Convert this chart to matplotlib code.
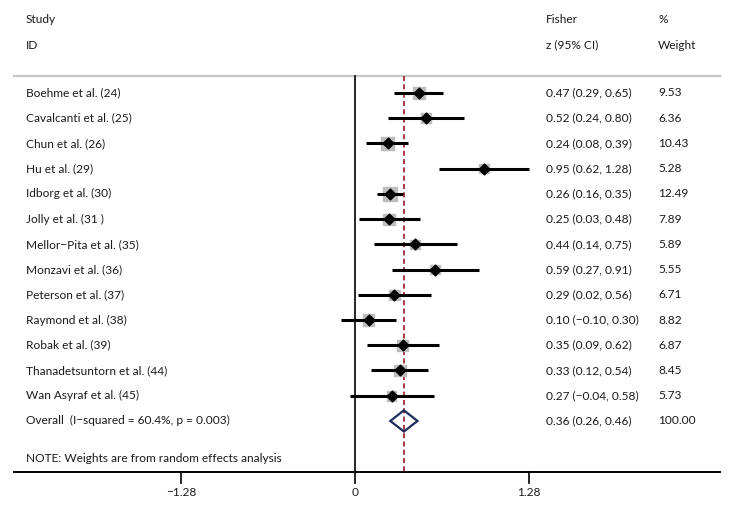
import numpy as np
import matplotlib.pyplot as plt
from matplotlib.transforms import blended_transform_factory
from matplotlib.patches import Polygon

plt.rcParams['font.family'] = ['Lato', 'DejaVu Sans']
plt.rcParams['text.color'] = '#1a1a1a'

# Study data
studies = ["Boehme et al. (24)", "Cavalcanti et al. (25)", "Chun et al. (26)",
           "Hu et al. (29)", "Idborg et al. (30)", "Jolly et al. (31 )",
           "Mellor\u2212Pita et al. (35)", "Monzavi et al. (36)", "Peterson et al. (37)",
           "Raymond et al. (38)", "Robak et al. (39)", "Thanadetsuntorn et al. (44)",
           "Wan Asyraf et al. (45)"]
est = [0.47, 0.52, 0.24, 0.95, 0.26, 0.25, 0.44, 0.59, 0.29, 0.10, 0.35, 0.33, 0.27]
lo = [0.29, 0.24, 0.08, 0.62, 0.16, 0.03, 0.14, 0.27, 0.02, -0.10, 0.09, 0.12, -0.04]
hi = [0.65, 0.80, 0.39, 1.28, 0.35, 0.48, 0.75, 0.91, 0.56, 0.30, 0.62, 0.54, 0.58]
weights = [9.53, 6.36, 10.43, 5.28, 12.49, 7.89, 5.89, 5.55, 6.71, 8.82, 6.87, 8.45, 5.73]

overall_label = "Overall  (I\u2212squared = 60.4%, p = 0.003)"
overall_est, overall_lo, overall_hi = 0.36, 0.26, 0.46
overall_weight = 100.00
note = "NOTE: Weights are from random effects analysis"
xticks = [-1.28, 0, 1.28]

def fmt(v):
    return ("%.2f" % v).replace("-", "\u2212")

fig = plt.figure(figsize=(7.42, 5.09), dpi=100)
ax = fig.add_axes([0, 0, 1, 1])
ax.set_xlim(-2.612, 2.848)
ax.set_ylim(16.49, -3.686)
ax.axis('off')

tx = blended_transform_factory(ax.transAxes, ax.transData)
fs = 8.6
x_id, x_est, x_w = 0.035, 0.736, 0.887
y_top, y_axis = -0.68, 15.02

# header
ax.text(x_id, -2.93, "Study", transform=tx, fontsize=fs, va='center')
ax.text(x_id, -1.9, "ID", transform=tx, fontsize=fs, va='center')
ax.text(x_est, -2.93, "Fisher", transform=tx, fontsize=fs, va='center')
ax.text(x_est, -1.9, "z (95% CI)", transform=tx, fontsize=fs, va='center')
ax.text(x_w, -2.93, "%", transform=tx, fontsize=fs, va='center')
ax.text(x_w, -1.9, "Weight", transform=tx, fontsize=fs, va='center')

# separator and axis lines
ax.plot([0.019, 0.97], [y_top, y_top], transform=tx, color='#c8c8c8', lw=1.6, clip_on=False)
ax.plot([0.019, 0.97], [y_axis, y_axis], transform=tx, color='black', lw=1.4, clip_on=False)
ax.plot([0, 0], [y_top, y_axis], color='black', lw=1.2)
ax.plot([overall_est, overall_est], [y_top, y_axis], color='#9e2a3a', lw=1.3, ls=(0, (2.8, 1.8)))
for t in xticks:
    ax.plot([t, t], [y_axis, y_axis + 0.45], color='black', lw=1.2)
    lab = "0" if t == 0 else fmt(t)
    ax.text(t, 15.85, lab, ha='center', va='center', fontsize=fs)

y = np.arange(len(studies))
# weight boxes
ax.scatter(est, y, s=[8.3 * w for w in weights], marker='s', color='#bdbdbd', zorder=2)
ax.hlines(y, lo, hi, color='black', lw=2.2, zorder=3)
ax.scatter(est, y, s=30, marker='D', color='black', zorder=4)

for i, name in enumerate(studies):
    ax.text(x_id, y[i], name, transform=tx, fontsize=fs, va='center')
    ax.text(x_est, y[i], "%s (%s, %s)" % (fmt(est[i]), fmt(lo[i]), fmt(hi[i])),
            transform=tx, fontsize=fs, va='center')
    ax.text(x_w, y[i], "%.2f" % weights[i], transform=tx, fontsize=fs, va='center')

# overall diamond
yo = len(studies)
dia = Polygon([[overall_lo, yo], [overall_est, yo - 0.42], [overall_hi, yo], [overall_est, yo + 0.42]],
              closed=True, fill=False, edgecolor='#1f2d5c', lw=1.6, zorder=5)
ax.add_patch(dia)
ax.text(x_id, yo, overall_label, transform=tx, fontsize=fs, va='center')
ax.text(x_est, yo, "%s (%s, %s)" % (fmt(overall_est), fmt(overall_lo), fmt(overall_hi)),
        transform=tx, fontsize=fs, va='center')
ax.text(x_w, yo, "%.2f" % overall_weight, transform=tx, fontsize=fs, va='center')

ax.text(x_id, 14.47, note, transform=tx, fontsize=fs, va='center')

plt.savefig("out.png", dpi=100)
plt.close()
